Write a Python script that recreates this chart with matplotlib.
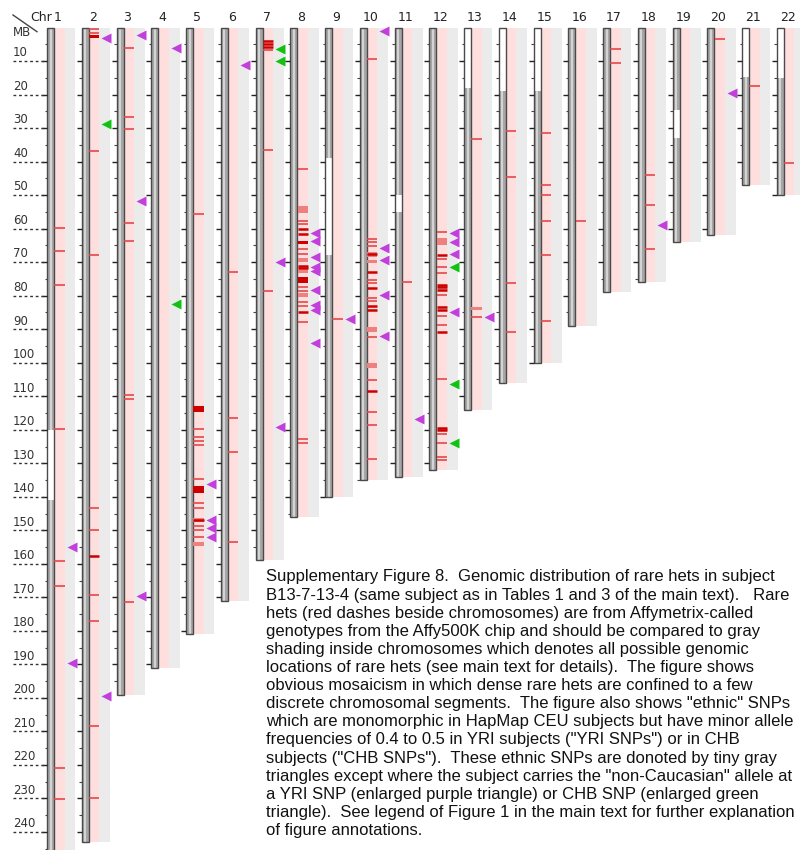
"""Genome-wide ideogram of rare hets and ethnic-SNP calls for one subject."""

import matplotlib

matplotlib.use("Agg")

import matplotlib.pyplot as plt  # noqa: E402
from matplotlib.patches import Rectangle  # noqa: E402

# chromosome sizes (hg18, MB)
CHROMS = [str(i) for i in range(1, 23)]
CHROM_LEN = [247, 243, 199, 191, 181, 171, 159, 146, 140, 135, 134,
             132, 114, 106, 100, 89, 79, 76, 64, 62, 47, 50]

# stretches with no callable rare-het sites (left white inside the ideogram)
NO_SITES = {
    1: [(120, 141)], 9: [(39, 68)], 11: [(50, 55)], 13: [(0, 18)],
    14: [(0, 19)], 15: [(0, 19)], 19: [(24.6, 33)], 21: [(0, 14.7)],
    22: [(0, 15)],
}

# rare het positions (MB): single calls, strong calls, dense runs
HETS = {
    1: [59.7, 66.8, 76.7, 119.9, 159.3, 166.6, 220.8, 230.3],
    2: [0.5, 1.7, 36.7, 68.0, 143.2, 150.0, 169.3, 177.2, 208.4, 229.9],
    3: [6.0, 26.8, 30.3, 58.2, 63.6, 109.7, 110.9, 171.4],
    5: [55.5, 119.9, 122.3, 123.4, 124.6, 134.8, 142.0, 143.4, 148.6,
        149.9, 151.9],
    6: [72.8, 116.4, 126.6, 153.4],
    7: [6.6, 36.4, 78.7],
    8: [42.3, 57.6, 58.6, 66.2, 67.6, 77.5, 78.6, 81.8, 83.1, 87.8,
        122.9, 124.1],
    9: [87.1],
    10: [9.5, 63.1, 64.1, 65.1, 75.3, 76.3, 80.8, 81.6, 92.2, 105.2,
         114.6, 118.6, 128.8],
    11: [75.8],
    12: [60.9, 69.1, 71.5, 73.1, 79.8, 86.1, 88.8, 105.0, 121.3, 124.1,
         128.0, 129.0],
    13: [33.3, 86.4],
    14: [30.9, 44.7, 76.3, 90.7],
    15: [31.6, 47.0, 50.0, 57.7, 67.9, 87.6],
    16: [57.7],
    17: [6.5, 10.7],
    18: [44.0, 53.0, 66.2],
    20: [3.5],
    21: [17.4],
    22: [40.5],
}
HETS_STRONG = {
    2: [157.8],
    5: [146.9],
    7: [4.0, 4.9, 5.8],
    8: [60.1, 61.6, 71.2, 71.8, 84.8],
    10: [67.6, 73.0, 77.8, 83.1, 84.3, 108.3],
    12: [67.9, 76.8, 77.5, 78.3, 83.5, 84.3, 90.7, 119.5, 120.1],
}
DENSE_DARK = {
    2: [(2.2, 3.2)],
    5: [(112.9, 114.6), (136.8, 138.8)],
    8: [(63.6, 64.6), (74.3, 76.1)],
}
DENSE_LIGHT = {
    5: [(146.2, 147.6), (153.4, 154.7)],
    8: [(53.4, 55.4), (68.9, 69.9), (72.3, 73.3), (79.3, 80.5)],
    10: [(66.9, 68.4), (69.4, 70.4), (89.3, 90.8), (100.2, 101.5)],
    12: [(62.9, 64.9)],
    13: [(83.4, 84.3)],
}

# ethnic SNPs where the non-Caucasian allele is carried
YRI_SNPS = {
    1: [155.0, 189.6], 2: [3.0, 199.4], 3: [2.2, 51.9, 169.6], 4: [6.0],
    5: [136.2, 147.0, 149.3, 152.0], 6: [11.1], 7: [70.0, 119.1],
    8: [61.2, 63.7, 68.6, 71.5, 72.6, 78.3, 82.8, 84.3, 94.2], 9: [87.1],
    10: [1.0, 65.9, 69.4, 79.8, 92.0], 11: [116.9],
    12: [61.4, 64.1, 67.6, 84.8], 13: [86.5], 18: [58.9], 20: [19.6],
}
CHB_SNPS = {
    2: [28.9], 4: [82.6], 7: [6.5, 10.1], 12: [71.4, 106.4, 124.1],
}

MB_TICKS = list(range(10, 250, 10))

CAPTION = [
    "Supplementary Figure 8.  Genomic distribution of rare hets in subject",
    "B13-7-13-4 (same subject as in Tables 1 and 3 of the main text).   Rare",
    "hets (red dashes beside chromosomes) are from Affymetrix-called",
    "genotypes from the Affy500K chip and should be compared to gray",
    "shading inside chromosomes which denotes all possible genomic",
    "locations of rare hets (see main text for details).  The figure shows",
    "obvious mosaicism in which dense rare hets are confined to a few",
    "discrete chromosomal segments.  The figure also shows \"ethnic\" SNPs",
    "which are monomorphic in HapMap CEU subjects but have minor allele",
    "frequencies of 0.4 to 0.5 in YRI subjects (\"YRI SNPs\") or in CHB",
    "subjects (\"CHB SNPs\").  These ethnic SNPs are donoted by tiny gray",
    "triangles except where the subject carries the \"non-Caucasian\" allele at",
    "a YRI SNP (enlarged purple triangle) or CHB SNP (enlarged green",
    "triangle).  See legend of Figure 1 in the main text for further explanation",
    "of figure annotations.",
]

W, H = 800, 850
PX_PER_MB = 3.352
TOP_PX = 27.5          # pixel row of 0 MB
COL0, COL_STEP = 58, 34.75

PINK = "#ffdede"
STRIP_GRAY = "#ebebeb"
RED = "#e4484a"
DARK_RED = "#cc0000"
LIGHT_RED = "#ee8080"
PURPLE = "#c23fdc"
GREEN = "#12c212"


def draw_chromosome(ax, num, length, c):
    """One column: ideogram, het strip, SNP strip and 5 MB ticks."""
    ideo_x, ideo_w = c - 11, 7
    pink_x, pink_w = c - 3.75, 10.25
    gray_x, gray_w = c + 6.5, 10.75

    ax.add_patch(Rectangle((pink_x, 0), pink_w, length, fc=PINK, ec="none"))
    ax.add_patch(Rectangle((gray_x, 0), gray_w, length, fc=STRIP_GRAY,
                           ec="none"))

    ax.add_patch(Rectangle((ideo_x, 0), ideo_w, length, fc="#a6a6a6",
                           ec="none"))
    ax.add_patch(Rectangle((ideo_x + 2.5, 0), 2, length, fc="#d4d4d4",
                           ec="none"))
    for a, b in NO_SITES.get(num, []):
        ax.add_patch(Rectangle((ideo_x, a), ideo_w, b - a, fc="white",
                               ec="none"))
    ax.add_patch(Rectangle((ideo_x, 0), ideo_w, length, fc="none",
                           ec="#4a4a4a", lw=1.0))

    major = [m for m in range(10, length + 1, 10)]
    minor = [m for m in range(5, length + 1, 10)]
    ax.hlines(major, ideo_x - 5, ideo_x, color="#222222", lw=1.0)
    ax.hlines(minor, ideo_x - 2.5, ideo_x, color="#444444", lw=0.8)

    for a, b in DENSE_LIGHT.get(num, []):
        ax.add_patch(Rectangle((pink_x, a), pink_w, b - a, fc=LIGHT_RED,
                               ec="none"))
    for a, b in DENSE_DARK.get(num, []):
        ax.add_patch(Rectangle((pink_x, a), pink_w, b - a, fc=DARK_RED,
                               ec="none"))
    if num in HETS:
        ax.hlines(HETS[num], pink_x, pink_x + pink_w, color=RED, lw=1.2)
    if num in HETS_STRONG:
        ax.hlines(HETS_STRONG[num], pink_x, pink_x + pink_w,
                  color=DARK_RED, lw=1.8)

    tri_x = gray_x + 7
    for snps, color in ((YRI_SNPS, PURPLE), (CHB_SNPS, GREEN)):
        pos = snps.get(num, [])
        if pos:
            ax.plot([tri_x] * len(pos), pos, ls="none", marker="<", ms=7.5,
                    color=color, mec="none")

    ax.text(c, -3.1, CHROMS[num - 1], ha="center", va="center",
            fontsize=9, color="#222222")


def main():
    fig = plt.figure(figsize=(W / 100, H / 100), dpi=100)
    ax = fig.add_axes([0, 0, 1, 1])
    ax.set_xlim(0, W)
    ax.set_ylim((H - TOP_PX) / PX_PER_MB, -TOP_PX / PX_PER_MB)
    ax.axis("off")

    for i, length in enumerate(CHROM_LEN):
        draw_chromosome(ax, i + 1, length, COL0 + i * COL_STEP)

    # MB scale down the left edge
    ax.hlines(MB_TICKS, 13, COL0 - 11, color="#333333", lw=1.0,
              linestyles=(0, (2, 2)))
    for m in MB_TICKS:
        ax.text(13, m - 0.5, str(m), ha="left", va="bottom", fontsize=8.5,
                color="#333333")
    ax.text(13, 1.6, "MB", ha="left", va="center", fontsize=8.5,
            color="#333333")
    ax.text(COL0 - 6, -3.1, "Chr", ha="right", va="center", fontsize=9,
            color="#222222")
    ax.plot([13, 37], [(15 - TOP_PX) / PX_PER_MB, (31.7 - TOP_PX) / PX_PER_MB],
            color="#444444", lw=1.0)

    for k, line in enumerate(CAPTION):
        fig.text(266 / W, 1 - (577 + 18.1 * k) / H, line, ha="left",
                 va="center", fontsize=12, family="Liberation Sans",
                 color="#111111")

    fig.savefig("out.png", dpi=100)
    plt.close(fig)


if __name__ == "__main__":
    main()
